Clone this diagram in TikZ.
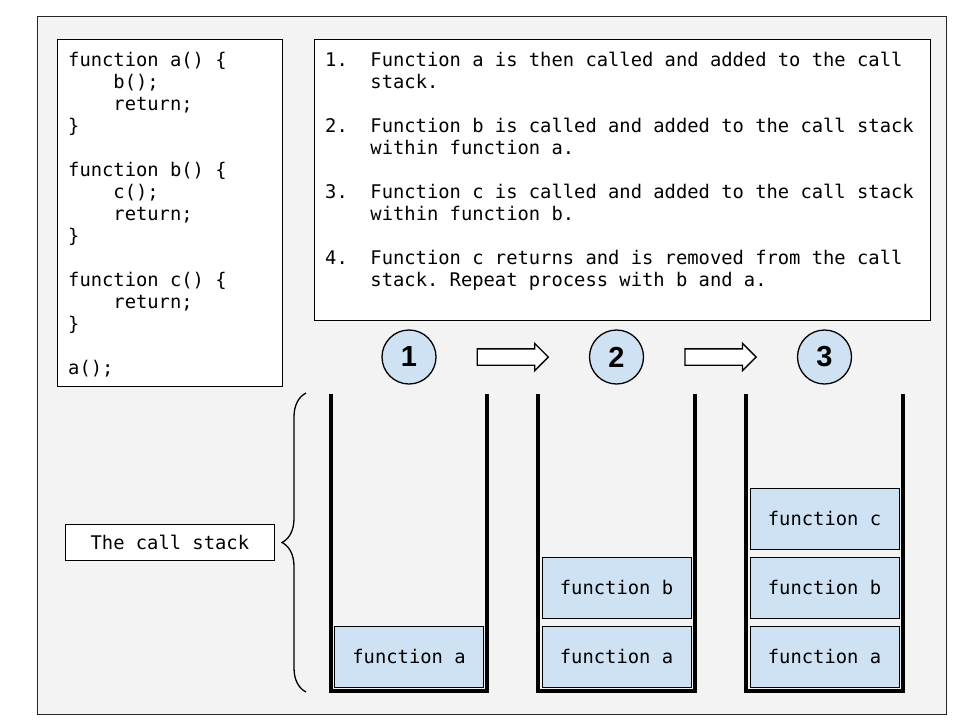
\documentclass[tikz,border=0pt]{standalone}
\usepackage{fontspec}
\setmonofont{DejaVu Sans Mono}
\newfontfamily\digitfont{Liberation Sans}
\usepackage{tikz}
\usetikzlibrary{shapes.arrows}
\usetikzlibrary{decorations.pathreplacing}
\usetikzlibrary{calc,positioning}
\definecolor{panelgray}{HTML}{F3F3F3}
\definecolor{stackblue}{HTML}{CFE2F3}
\newcommand{\codeind}{\phantom{xxxx}}
\newcommand{\numind}{\phantom{1.xx}}

\begin{document}
\begin{tikzpicture}
[x=1pt,y=-1pt,
mono/.style={font=\ttfamily\fontsize{18.8}{22}\selectfont},
panel/.style={rectangle,draw=black,fill=white,line width=1.3pt,anchor=north west,inner sep=0pt},
listing/.style={mono,align=left,anchor=north west,inner sep=0pt},
frame/.style={rectangle,draw=black,fill=stackblue,line width=0.9pt,minimum width=149,minimum height=61,inner sep=0pt,mono},
stepnum/.style={circle,draw=black,fill=stackblue,line width=1.3pt,minimum size=54,inner sep=0pt,font=\digitfont\bfseries\fontsize{29}{29}\selectfont},
steparrow/.style={single arrow,draw=black,fill=white,line width=1.3pt,minimum height=71,minimum width=0,single arrow head extend=5.5pt,inner xsep=0pt,inner ysep=7.5pt,xshift=-4pt},
wall/.style={draw=black,line width=3.5pt,line join=miter},
labelbox/.style={rectangle,draw=black,fill=white,line width=1.3pt,minimum width=209,minimum height=36,inner sep=0pt,mono}]
\useasboundingbox (0,0) rectangle (960,720);
\draw [fill=panelgray,draw=black!85,line width=1pt] (37,16) rectangle (946,714);

% code and steps
\node at (57,39)  [panel,minimum width=225,minimum height=347] (codebox) {};
\node at ([shift={(11,13)}]codebox.north west) [listing] (code)
  {function a() \{\\ \codeind b();\\ \codeind return;\\ \}\\[22pt]
   function b() \{\\ \codeind c();\\ \codeind return;\\ \}\\[22pt]
   function c() \{\\ \codeind return;\\ \}\\[22pt]
   a();};
\node at (314,39) [panel,minimum width=616,minimum height=281] (stepbox) {};
\node at ([shift={(11,13)}]stepbox.north west) [listing] (steps)
  {1.\ \ Function a is then called and added to the call\\ \numind stack.\\[22pt]
   2.\ \ Function b is called and added to the call stack\\ \numind within function a.\\[22pt]
   3.\ \ Function c is called and added to the call stack\\ \numind within function b.\\[22pt]
   4.\ \ Function c returns and is removed from the call\\ \numind stack. Repeat process with b and a.};

% steps
\node at (409,357)   [stepnum] (s1) {1};
\node at (616.5,357) [stepnum] (s2) {2};
\node at (824.5,357) [stepnum] (s3) {3};
\node at ($(s1)!0.5!(s2)$) [steparrow] (ar1) {};
\node at ($(s2)!0.5!(s3)$) [steparrow] (ar2) {};

% stacks
\draw [wall] (331,394) -- (331,691) -- (487,691) -- (487,394);
\draw [wall] (538,394) -- (538,691) -- (695,691) -- (695,394);
\draw [wall] (746,394) -- (746,691) -- (903,691) -- (903,394);
\node at (409,656.5)   [frame] (fa1) {function a};
\node at (616.5,656.5) [frame] (fa2) {function a};
\node at (616.5,587.5) [frame] (fb2) {function b};
\node at (824.5,656.5) [frame] (fa3) {function a};
\node at (824.5,587.5) [frame] (fb3) {function b};
\node at (824.5,518.5) [frame] (fc3) {function c};

% brace
\coordinate (bbot) at (306,692);
\coordinate (btop) at (306,393);
\coordinate (btip) at (282,542.5);
\draw [line width=1.3pt,decorate,decoration={brace,amplitude=24pt}] (bbot) -- (btop);
\node [labelbox,left=7pt of btip] (lbl) {The call stack};
\end{tikzpicture}
\end{document}
